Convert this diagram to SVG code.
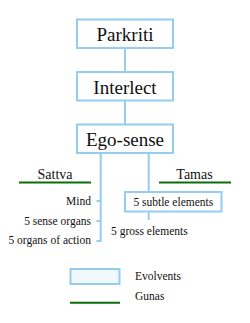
<svg xmlns="http://www.w3.org/2000/svg" width="250" height="323" viewBox="0 0 250 323">
<style>
.box{fill:#fff;stroke:#94cdf0;stroke-width:2}
.ln{fill:none;stroke:#94cdf0;stroke-width:2}
.guna{stroke:#0a6e0a;stroke-width:2}
.big{font-family:"Liberation Serif",serif;font-size:19px;fill:#111;text-anchor:middle}
.mid{font-family:"Liberation Serif",serif;font-size:14px;fill:#111;text-anchor:middle}
.sm{font-family:"Liberation Serif",serif;font-size:11.5px;fill:#111}
.lg{font-family:"Liberation Serif",serif;font-size:11.5px;fill:#111}
</style>
<rect width="250" height="323" fill="#fff"/>
<g id="connectors">
<line class="ln" x1="125" y1="48" x2="125" y2="72"/>
<line class="ln" x1="125" y1="100" x2="125" y2="124"/>
<polyline class="ln" points="100.7,153 100.7,241 96.5,241"/>
<line class="ln" x1="96.5" y1="201" x2="100.7" y2="201"/>
<line class="ln" x1="96.5" y1="221" x2="100.7" y2="221"/>
<line class="ln" x1="148.7" y1="153" x2="148.7" y2="192"/>
<line class="ln" x1="148.7" y1="211" x2="148.7" y2="220"/>
</g>
<g id="parkriti"><rect class="box" x="77" y="19.5" width="96" height="28.5"/><text class="big" x="125" y="41">Parkriti</text></g>
<g id="interlect"><rect class="box" x="77" y="72" width="96" height="28.5"/><text class="big" x="125" y="94">Interlect</text></g>
<g id="ego"><rect class="box" x="77" y="124.5" width="96" height="28.5"/><text class="big" x="125" y="146">Ego-sense</text></g>
<g id="sattva"><text class="mid" x="55" y="179">Sattva</text><line class="guna" x1="19" y1="182.5" x2="91" y2="182.5"/></g>
<g id="tamas"><text class="mid" x="194.5" y="179">Tamas</text><line class="guna" x1="159" y1="182.5" x2="231" y2="182.5"/></g>
<g id="mind"><text class="sm" x="91" y="205" text-anchor="end">Mind</text></g>
<g id="sense"><text class="sm" x="91" y="225" text-anchor="end">5 sense organs</text></g>
<g id="action"><text class="sm" x="91" y="244" text-anchor="end">5 organs of action</text></g>
<g id="subtle"><rect class="box" x="125" y="192" width="96.5" height="19.5"/><text class="sm" x="173.3" y="206" text-anchor="middle">5 subtle elements</text></g>
<g id="gross"><text class="sm" x="111" y="234.5">5 gross elements</text></g>
<g id="legend">
<rect x="70.5" y="269" width="49" height="15" fill="#f0f8fe" stroke="#94cdf0" stroke-width="2"/>
<text class="lg" x="135" y="280">Evolvents</text>
<line class="guna" x1="70" y1="302.7" x2="120" y2="302.7"/>
<text class="lg" x="135" y="299.5">Gunas</text>
</g>
</svg>
